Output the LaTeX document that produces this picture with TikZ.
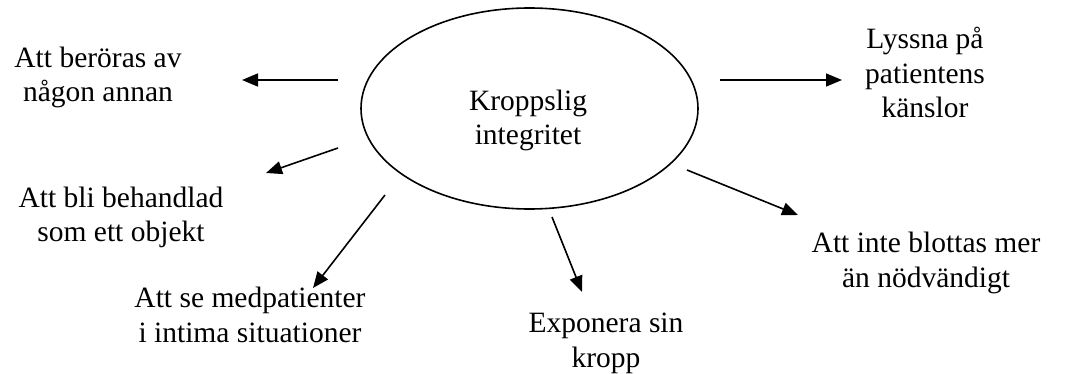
\documentclass[tikz,border=0pt]{standalone}
\usepackage{fontspec}
\setmainfont{Liberation Serif}
\usetikzlibrary{arrows.meta,shapes.geometric}
\tikzset{
  lbl/.style={align=center, anchor=base, inner sep=0pt, font=\fontsize{14.75}{17.25}\selectfont},
  arr/.style={line width=0.8pt, -{Triangle[length=8pt,width=6.5pt]}},
}
\begin{document}
\begin{tikzpicture}[x=0.5pt,y=-0.5pt]
\useasboundingbox (0,0) rectangle (1072,374);
\node[draw, ellipse, line width=0.8pt, minimum width=168.5pt, minimum height=100.5pt, inner sep=0pt] (c) at (529.5,108.5) {};
\node[lbl] (ctext) at (528,145) {Kroppslig\\integritet};
\node[lbl] (t1) at (98,102) {Att beröras av\\någon annan};
\node[lbl] (t2) at (121,242) {Att bli behandlad\\som ett objekt};
\node[lbl] (t3) at (250,342) {Att se medpatienter\\i intima situationer};
\node[lbl] (t4) at (606,367) {Exponera sin\\kropp};
\node[lbl] (t5) at (926,287) {Att inte blottas mer\\än nödvändigt};
\node[lbl] (t6) at (925,118) {Lyssna på\\patientens\\känslor};
\coordinate (a1s) at (338,80); \coordinate (a1e) at (242,80);
\coordinate (a2s) at (338,148); \coordinate (a2e) at (266,173);
\coordinate (a3s) at (385,195); \coordinate (a3e) at (313,288);
\coordinate (a4s) at (552,217); \coordinate (a4e) at (582,292);
\coordinate (a5s) at (687,170); \coordinate (a5e) at (798,215);
\coordinate (a6s) at (720,80); \coordinate (a6e) at (842,80);
\draw[arr] (a1s) -- (a1e);
\draw[arr] (a2s) -- (a2e);
\draw[arr] (a3s) -- (a3e);
\draw[arr] (a4s) -- (a4e);
\draw[arr] (a5s) -- (a5e);
\draw[arr] (a6s) -- (a6e);
\end{tikzpicture}
\end{document}
